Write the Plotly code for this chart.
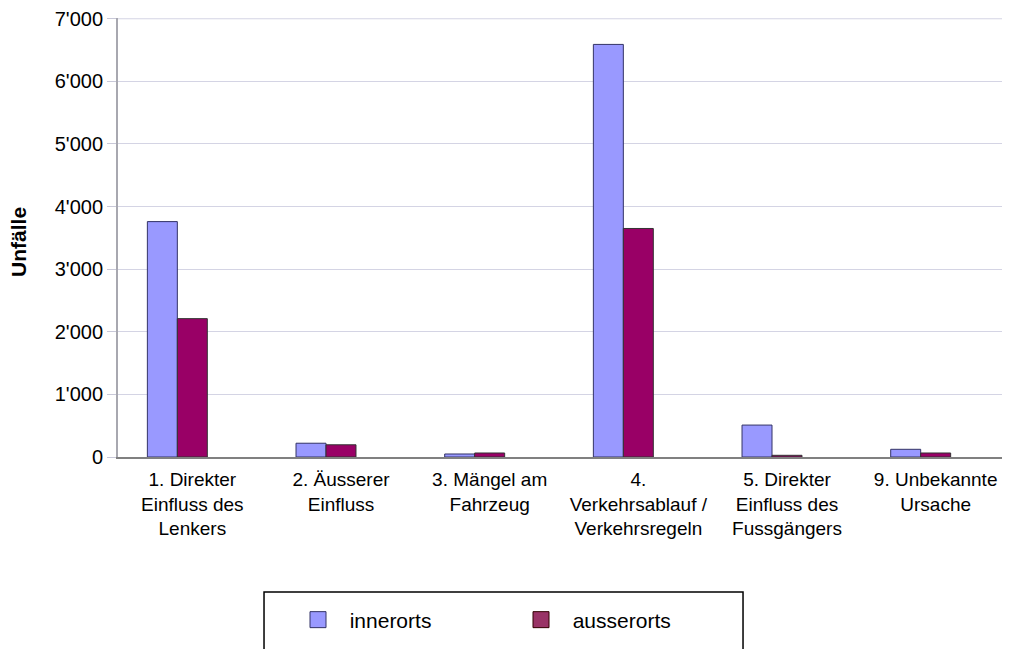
import plotly.graph_objects as go

categories = [
    "1. Direkter<br>Einfluss des<br>Lenkers",
    "2. Äusserer<br>Einfluss",
    "3. Mängel am<br>Fahrzeug",
    "4.<br>Verkehrsablauf /<br>Verkehrsregeln",
    "5. Direkter<br>Einfluss des<br>Fussgängers",
    "9. Unbekannte<br>Ursache",
]
innerorts = [3760, 220, 48, 6590, 510, 123]
ausserorts = [2210, 195, 64, 3650, 27, 64]
# empty third series keeps the bar groups left-aligned like the original
leer = [0, 0, 0, 0, 0, 0]
y_ticks = [0, 1000, 2000, 3000, 4000, 5000, 6000, 7000]

inner_col = "#9999ff"
ausser_col = "#990066"
grid_col = "#d4d4e4"

fig = go.Figure()
fig.add_trace(go.Bar(
    x=categories, y=innerorts, name="innerorts", showlegend=False,
    marker=dict(color=inner_col, line=dict(color="#333366", width=1)),
))
fig.add_trace(go.Bar(
    x=categories, y=ausserorts, name="ausserorts", showlegend=False,
    marker=dict(color=ausser_col, line=dict(color="#333333", width=1)),
))
fig.add_trace(go.Bar(
    x=categories, y=leer, name="", showlegend=False,
    marker=dict(color="rgba(0,0,0,0)", line=dict(width=0)),
))

# legend entries with bigger square swatches
fig.add_trace(go.Scatter(
    x=[None], y=[None], mode="markers", name="\u00a0\u00a0innerorts",
    marker=dict(symbol="square", size=27, color=inner_col,
                line=dict(color="#333366", width=1)),
))
fig.add_trace(go.Scatter(
    x=[None], y=[None], mode="markers", name="\u00a0\u00a0ausserorts",
    marker=dict(symbol="square", size=27, color="#993366",
                line=dict(color="#330000", width=1)),
))

# top gridline (plotly drops it at the edge of the range)
fig.add_shape(
    type="line", xref="paper", yref="y",
    x0=0, x1=1, y0=y_ticks[-1], y1=y_ticks[-1],
    line=dict(color=grid_col, width=1), layer="below",
)

# legend frame (runs off the bottom of the picture like the original)
fig.add_shape(
    type="rect", xref="paper", yref="paper",
    x0=0.1637, x1=0.7007, y0=-0.3075, y1=-0.47,
    line=dict(color="#000000", width=1.5), fillcolor="rgba(0,0,0,0)",
)

fig.add_annotation(
    text="<b>Unfälle</b>", xref="paper", yref="paper",
    x=-0.111, y=0.49, xanchor="center", yanchor="middle",
    textangle=-90, showarrow=False,
    font=dict(size=21),
)

# the page adds an 8px body margin, so the figure is 8px smaller
fig.update_layout(
    width=1002, height=641,
    margin=dict(l=110, r=0, t=10, b=192, autoexpand=False),
    paper_bgcolor="white", plot_bgcolor="white",
    font=dict(family="Liberation Sans, Arial", size=19, color="#000000"),
    separators=".'",
    barmode="group",
    bargap=0.395, bargroupgap=0,
    showlegend=True,
    legend=dict(
        orientation="h",
        x=0.2018, xanchor="left", y=-0.3713, yanchor="middle",
        borderwidth=0, bgcolor="rgba(0,0,0,0)",
        font=dict(size=21),
        entrywidth=178, entrywidthmode="pixels",
    ),
    xaxis=dict(
        showline=True, linecolor="#808080", linewidth=2,
        ticks="", showgrid=False, automargin=False,
        tickfont=dict(size=19), ticklabelstandoff=4,
    ),
    yaxis=dict(
        range=[0, 7012],
        tickvals=y_ticks, tickformat=",d",
        tickfont=dict(size=20), ticklabeloverflow="allow",
        showline=True, linecolor="#a8a8b0", linewidth=2,
        showgrid=True, gridcolor=grid_col, gridwidth=1,
        ticks="outside", ticklen=9, tickcolor="#c8c8d8",
        zeroline=False, automargin=False,
    ),
)

fig.write_html("out.html")
